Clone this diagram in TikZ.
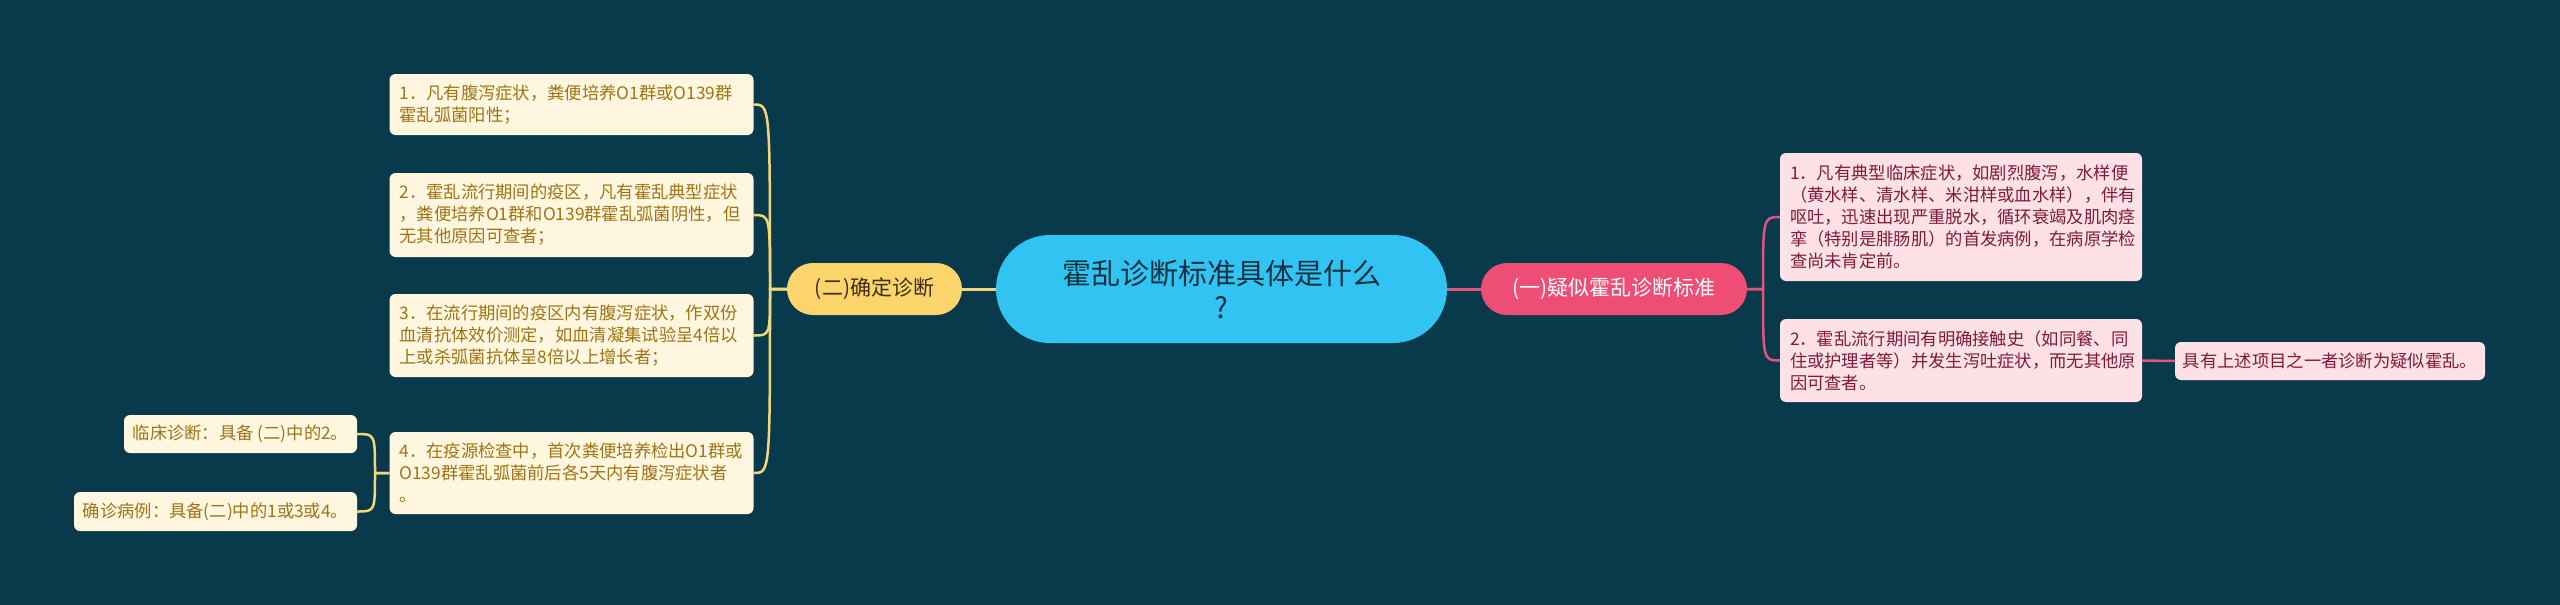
\documentclass[tikz,border=0pt]{standalone}
\usepackage{fontspec}
\setmainfont{Noto Sans CJK SC}
\definecolor{bg}{HTML}{093A4C}
\definecolor{cfill}{HTML}{31C4F3}
\definecolor{ctext}{HTML}{15313F}
\definecolor{yfill}{HTML}{FBD46C}
\definecolor{ytext}{HTML}{3B2F14}
\definecolor{yline}{HTML}{F2D77A}
\definecolor{pfill}{HTML}{EE4D75}
\definecolor{pline}{HTML}{E0557E}
\definecolor{lyfill}{HTML}{FFF6DF}
\definecolor{lytext}{HTML}{9E7415}
\definecolor{lpfill}{HTML}{FDE1E7}
\definecolor{lptext}{HTML}{7E1B3A}
\begin{document}
\begin{tikzpicture}[x=1pt,y=-1pt,
  centre/.style={fill=cfill, rounded corners=54pt, minimum width=451pt, minimum height=108pt, text=ctext, align=center, font=\fontsize{29}{34}\selectfont, inner sep=0pt},
  branchY/.style={fill=yfill, rounded corners=26pt, minimum width=175pt, minimum height=52pt, text=ytext, font=\fontsize{21}{25}\selectfont, inner sep=0pt},
  branchP/.style={fill=pfill, rounded corners=26pt, minimum width=266pt, minimum height=52pt, text=white, font=\fontsize{21}{25}\selectfont, inner sep=0pt},
  leafY/.style={fill=lyfill, rounded corners=6pt, text=lytext, align=left, font=\fontsize{17.3}{22}\selectfont, inner xsep=10pt, inner ysep=0pt},
  leafP/.style={fill=lpfill, rounded corners=6pt, text=lptext, align=left, font=\fontsize{17.3}{22}\selectfont, inner xsep=10pt, inner ysep=0pt},
  ylink/.style={draw=yline, line width=2.5pt},
  plink/.style={draw=pline, line width=2.5pt}
]
\useasboundingbox[fill=bg] (0,0) rectangle (2560,605);

\node[centre] (c) at (1221.5,289) {霍乱诊断标准具体是什么\\?};
\node[branchY] (b2) at (874.5,289) {(二)确定诊断};
\node[branchP] (b1) at (1614,289) {(一)疑似霍乱诊断标准};

\node[leafY, text width=344pt, minimum height=61pt] (l1) at (571.5,104.5) {1．凡有腹泻症状，粪便培养O1群或O139群\\霍乱弧菌阳性；};
\node[leafY, text width=344pt, minimum height=84pt] (l2) at (571.5,215) {2．霍乱流行期间的疫区，凡有霍乱典型症状\\，粪便培养O1群和O139群霍乱弧菌阴性，但\\无其他原因可查者；};
\node[leafY, text width=344pt, minimum height=83pt] (l3) at (571.5,335.5) {3．在流行期间的疫区内有腹泻症状，作双份\\血清抗体效价测定，如血清凝集试验呈4倍以\\上或杀弧菌抗体呈8倍以上增长者；};
\node[leafY, text width=344pt, minimum height=82pt] (l4) at (571.5,473) {4．在疫源检查中，首次粪便培养检出O1群或\\O139群霍乱弧菌前后各5天内有腹泻症状者\\。};
\node[leafY, align=center, minimum width=233pt, minimum height=38pt, inner xsep=0pt] (s1) at (240.5,434) {临床诊断：具备~(二)中的2。};
\node[leafY, align=center, minimum width=283pt, minimum height=39pt, inner xsep=0pt] (s2) at (215.5,511.5) {确诊病例：具备(二)中的1或3或4。};

\node[leafP, text width=342pt, minimum height=128pt] (r1) at (1961,217) {1．凡有典型临床症状，如剧烈腹泻，水样便\\（黄水样、清水样、米泔样或血水样），伴有\\呕吐，迅速出现严重脱水，循环衰竭及肌肉痉\\挛（特别是腓肠肌）的首发病例，在病原学检\\查尚未肯定前。};
\node[leafP, text width=342pt, minimum height=83pt] (r2) at (1961,360.5) {2．霍乱流行期间有明确接触史（如同餐、同\\住或护理者等）并发生泻吐症状，而无其他原\\因可查者。};
\node[leafP, align=center, minimum width=310pt, minimum height=38pt, inner xsep=0pt] (r3) at (2330,361) {具有上述项目之一者诊断为疑似霍乱。};

\coordinate (jL) at (770,289);
\coordinate (jS) at (375,473);
\coordinate (jR) at (1763,289);

\draw[ylink, line width=3pt] (c.west) -- (b2.east);
\draw[plink, line width=3pt] (c.east) -- (b1.west);

\foreach \t in {l1,l2,l3,l4}
  \draw[ylink] (b2.west) -- (jL) .. controls (jL |- \t.east) and (jL |- \t.east) .. (\t.east);
\foreach \t in {s1,s2}
  \draw[ylink] (l4.west) -- (jS) .. controls (jS |- \t.east) and (jS |- \t.east) .. (\t.east);
\foreach \t in {r1,r2}
  \draw[plink] (b1.east) -- (jR) .. controls (jR |- \t.west) and (jR |- \t.west) .. (\t.west);
\draw[plink] (r2.east) -- (r3.west);
\end{tikzpicture}
\end{document}
